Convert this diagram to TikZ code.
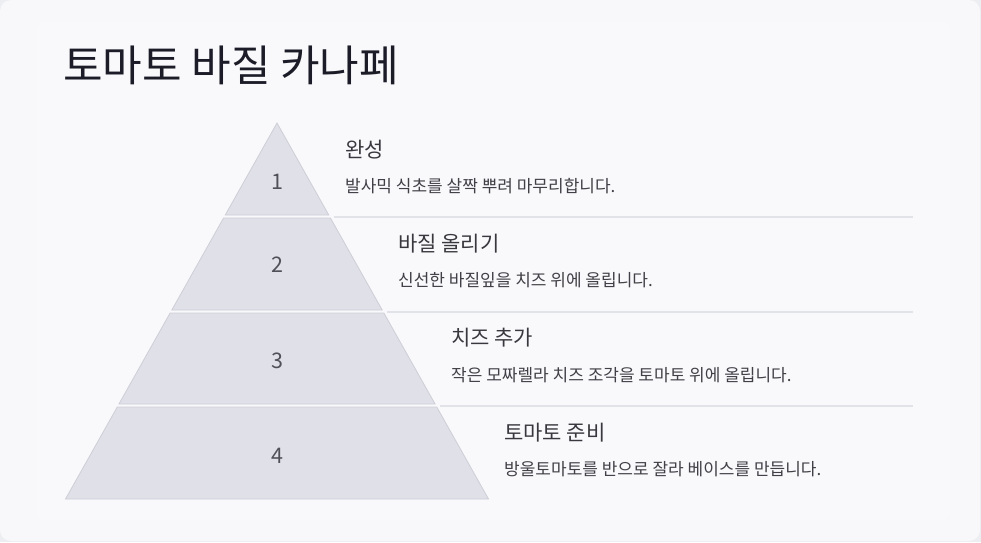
\documentclass[tikz,border=0pt]{standalone}
\usepackage{fontspec}
\setmainfont{Noto Sans CJK KR}
\begin{document}
\begin{tikzpicture}[x=1pt,y=-1pt,
  layer/.style={fill=layerfill,draw=layerline,line width=0.8pt,line join=miter},
  divider/.style={draw=divline,line width=2pt},
  numtxt/.style={text=numcol,inner sep=0pt,font=\fontsize{21.5}{24}\selectfont},
  steptitle/.style={text=titlecol,inner sep=0pt,anchor=west,font=\fontsize{21}{24}\selectfont},
  stepdesc/.style={text=desccol,inner sep=0pt,anchor=west,font=\fontsize{17}{20}\selectfont},
  maintitle/.style={text=headcol,inner sep=0pt,anchor=west,font=\fontsize{43}{50}\selectfont}]
\definecolor{outerbg}{HTML}{EDEEF1}
\definecolor{cardbg}{HTML}{F8F8FB}
\definecolor{panelbg}{HTML}{F9F9FC}
\definecolor{layerfill}{HTML}{E0E0E8}
\definecolor{layerline}{HTML}{CDCED6}
\definecolor{divline}{HTML}{E2E3E8}
\definecolor{numcol}{HTML}{505058}
\definecolor{titlecol}{HTML}{38383E}
\definecolor{desccol}{HTML}{404046}
\definecolor{headcol}{HTML}{1C1C28}
\useasboundingbox (0,0) rectangle (981,542);
\fill[outerbg] (0,0) rectangle (981,542);
\fill[cardbg,rounded corners=11pt] (0,0) rectangle (980,541);
\fill[panelbg,rounded corners=6pt] (37,22) rectangle (950,520);
% title
\node[maintitle] (title) at (63,65) {토마토 바질 카나페};
% pyramid layers
\draw[layer] (277,123) -- (328.75,215) -- (225.25,215) -- cycle;
\draw[layer] (223.56,218) -- (330.44,218) -- (382.19,310) -- (171.81,310) -- cycle;
\draw[layer] (170.12,313) -- (383.88,313) -- (435.06,404) -- (118.94,404) -- cycle;
\draw[layer] (117.25,407) -- (436.75,407) -- (488.5,499) -- (65.5,499) -- cycle;
% numbers
\node[numtxt] (n1) at (277,182) {1};
\node[numtxt] (n2) at (277,265) {2};
\node[numtxt] (n3) at (277,361) {3};
\node[numtxt] (n4) at (277,456) {4};
% dividers
\coordinate (d1a) at (333.6,216.5); \coordinate (d1b) at (913,216.5);
\coordinate (d2a) at (387,311.5);   \coordinate (d2b) at (913,311.5);
\coordinate (d3a) at (440,405.5);   \coordinate (d3b) at (913,405.5);
\draw[divider] (d1a) -- (d1b);
\draw[divider] (d2a) -- (d2b);
\draw[divider] (d3a) -- (d3b);
% texts
\node[steptitle] (t1) at (345,150) {완성};
\node[stepdesc]  (s1) at (345,186) {발사믹 식초를 살짝 뿌려 마무리합니다.};
\node[steptitle] (t2) at (398,244) {바질 올리기};
\node[stepdesc]  (s2) at (398,280) {신선한 바질잎을 치즈 위에 올립니다.};
\node[steptitle] (t3) at (451,338) {치즈 추가};
\node[stepdesc]  (s3) at (451,375) {작은 모짜렐라 치즈 조각을 토마토 위에 올립니다.};
\node[steptitle] (t4) at (504,433) {토마토 준비};
\node[stepdesc]  (s4) at (504,469) {방울토마토를 반으로 잘라 베이스를 만듭니다.};
\end{tikzpicture}
\end{document}
